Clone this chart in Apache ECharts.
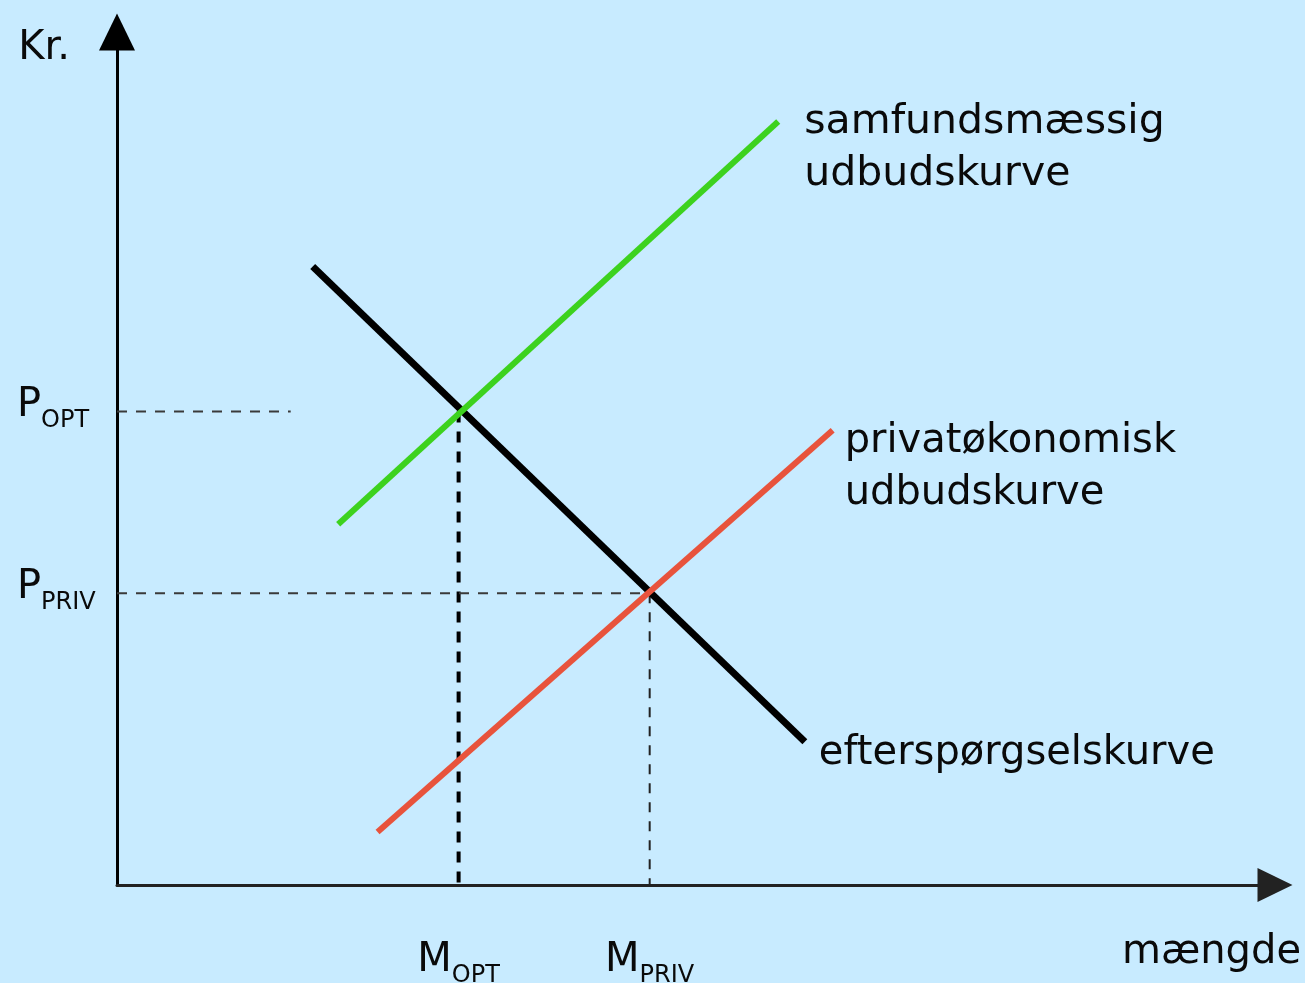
<!DOCTYPE html>
<html>
<head>
<meta charset="utf-8">
<script src="https://cdn.jsdelivr.net/npm/echarts@6/dist/echarts.min.js"></script>
<style>
  html, body { margin: 0; padding: 0; background: #c8ebff; }
  #chart { width: 1305px; height: 983px; }
</style>
</head>
<body>
<div id="chart"></div>
<script>
// Market with a negative externality: demand against private and social supply.
// Quantity runs 0..100 along x, price (Kr.) 0..100 along y.
const demandCurve   = [[16.9, 72.5], [59.4, 16.8]];
const socialSupply  = [[19.1, 42.3], [57.1, 89.5]];
const privateSupply = [[22.5, 6.2], [61.8, 53.3]];

// Equilibria: optimal (social) and private
const quantityMarks = [29.5, 46.0];
const priceMarks    = [55.5, 34.2];
const markNames     = ['OPT', 'PRIV'];

// Short reference stub for the optimal price
const priceOptStubEnd = 15;

const curveNames = {
  social: 'samfundsmæssig\nudbudskurve',
  private: 'privatøkonomisk\nudbudskurve',
  demand: 'efterspørgselskurve'
};

const FONT = 'DejaVu Sans';
const INK = '#0a0a0a';

function nameFor(marks, v) {
  let best = 0;
  marks.forEach((m, i) => { if (Math.abs(m - v) < Math.abs(marks[best] - v)) best = i; });
  return markNames[best];
}

// Big letter at the top of a 47px line, subscript sitting at its bottom
const subRich = () => ({
  b: { fontFamily: FONT, fontSize: 40, color: INK, lineHeight: 40, verticalAlign: 'top' },
  s: { fontFamily: FONT, fontSize: 24, color: INK, lineHeight: 47, verticalAlign: 'bottom' }
});

function guide(points, width, color, dash) {
  return {
    type: 'line', data: points, symbol: 'none', silent: true, z: 1,
    lineStyle: { color: color, width: width, type: dash, cap: 'butt' }
  };
}

function curve(points, color, width, label, size, offset) {
  return {
    type: 'line', data: points, symbol: 'none', silent: true, z: 3,
    lineStyle: { color: color, width: width, cap: 'butt' },
    endLabel: {
      show: true,
      formatter: () => label,
      fontFamily: FONT, fontSize: size, lineHeight: 52, color: INK,
      align: 'left', verticalAlign: 'top',
      distance: 0,
      offset: offset
    }
  };
}

const chart = echarts.init(document.getElementById('chart'), null, { renderer: 'canvas' });

chart.setOption({
  backgroundColor: '#c8ebff',
  animation: false,
  grid: { left: 117, right: 30, top: 32, bottom: 98, containLabel: false, outerBoundsMode: 'none' },
  xAxis: {
    type: 'value', min: 0, max: 100,
    splitLine: { show: false },
    axisTick: { show: false },
    axisLine: {
      show: true, onZero: false,
      lineStyle: { color: '#222', width: 3 },
      symbol: ['none', 'triangle'], symbolSize: [34, 35]
    },
    axisLabel: {
      show: true,
      customValues: quantityMarks,
      margin: 56,
      formatter: (v) => '{b|M}{s|' + nameFor(quantityMarks, v) + '}',
      rich: subRich()
    },
    name: 'mængde',
    nameLocation: 'end',
    nameGap: 26,
    nameTextStyle: {
      fontFamily: FONT, fontSize: 40, color: INK,
      align: 'right', verticalAlign: 'top', padding: [48, 0, 0, 0]
    }
  },
  yAxis: {
    type: 'value', min: 0, max: 100,
    splitLine: { show: false },
    axisTick: { show: false },
    axisLine: {
      show: true, onZero: false,
      lineStyle: { color: '#000', width: 3 },
      symbol: ['none', 'triangle'], symbolSize: [36, 37]
    },
    axisLabel: {
      show: true,
      customValues: priceMarks,
      margin: 100,
      align: 'left',
      padding: [0, 0, 5, 0],
      formatter: (v) => '{b|P}{s|' + nameFor(priceMarks, v) + '}',
      rich: subRich()
    },
    name: 'Kr.',
    nameLocation: 'end',
    nameGap: -17,
    nameTextStyle: {
      fontFamily: FONT, fontSize: 40, color: INK,
      align: 'right', verticalAlign: 'middle', padding: [0, 47, 0, 0]
    }
  },
  series: [
    guide([[0, priceMarks[0]], [priceOptStubEnd, priceMarks[0]]], 2, '#3a3a3a', [10, 9]),
    guide([[quantityMarks[0], priceMarks[0]], [quantityMarks[0], 0]], 4, '#000', [11, 9]),
    guide([[0, priceMarks[1]], [quantityMarks[1], priceMarks[1]]], 2, '#3a3a3a', [10, 9]),
    guide([[quantityMarks[1], priceMarks[1]], [quantityMarks[1], 0]], 2, '#222', [10, 9]),
    curve(demandCurve, '#000000', 7, curveNames.demand, 40, [14, -14]),
    curve(socialSupply, '#3dd21e', 6, curveNames.social, 41, [26, -25]),
    curve(privateSupply, '#e8533c', 6, curveNames.private, 40, [12, -15])
  ]
});
</script>
</body>
</html>
